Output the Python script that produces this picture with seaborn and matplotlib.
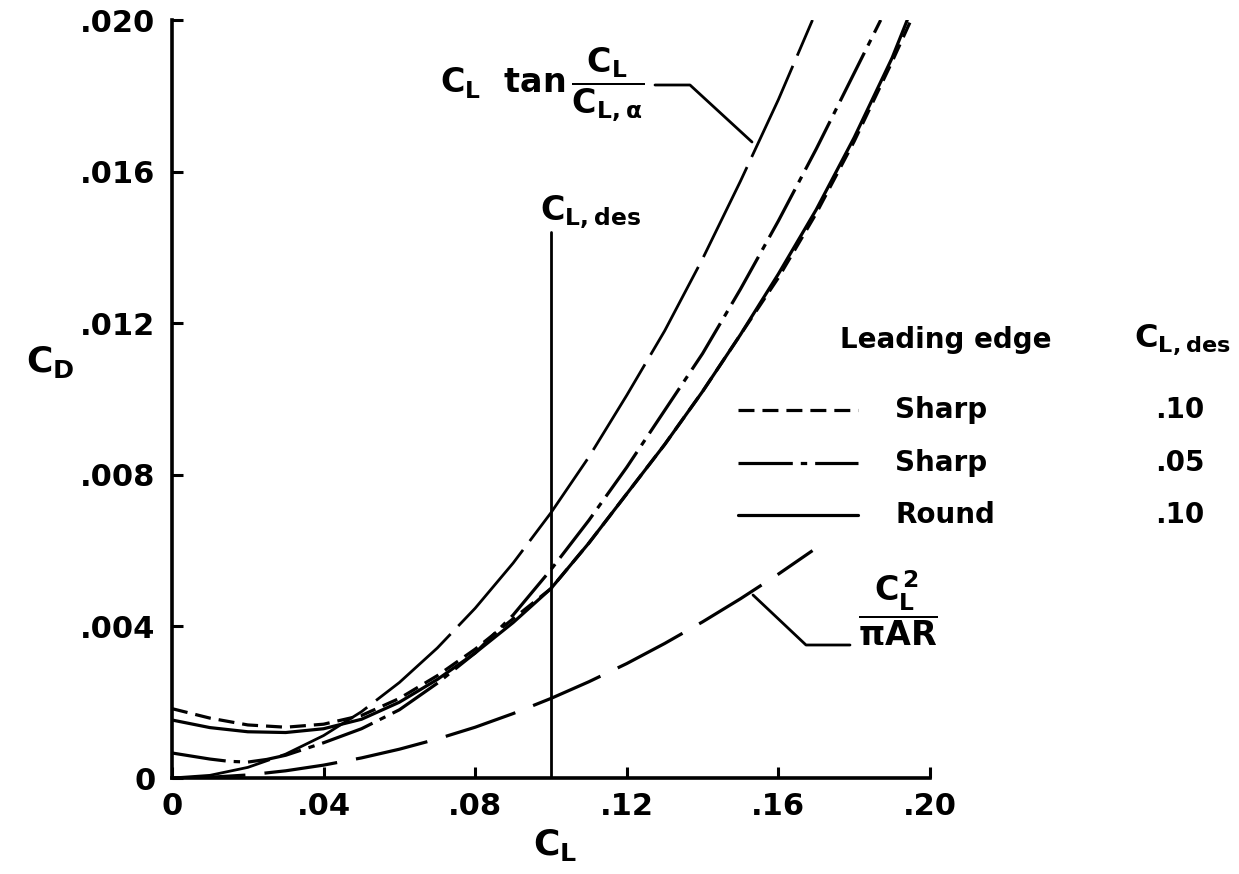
import matplotlib
matplotlib.use("Agg")
import matplotlib.pyplot as plt
from matplotlib.lines import Line2D
import seaborn as sns

# --- curve readings (C_L, C_D) ---
cl_tan = [0, .01, .02, .03, .04, .05, .06, .07, .08, .09, .10, .11, .12, .13, .14, .15, .16, .169]
cd_tan = [0, .00007, .00028, .00063, .00112, .00175, .00252, .00343, .00448, .00567, .0070,
          .00847, .0101, .0118, .0137, .01575, .0179, .0200]

cl_par = [0, .01, .02, .03, .04, .05, .06, .07, .08, .09, .10, .11, .12, .13, .14, .15, .16, .169]
cd_par = [0, .00002, .00008, .00019, .00034, .00053, .00076, .00103, .00134, .0017, .0021,
          .00254, .00302, .00355, .00412, .00473, .00538, .0060]

cl_round = [0, .01, .02, .03, .04, .05, .06, .07, .08, .09, .10, .11, .12, .13, .14, .15, .16,
            .17, .18, .19, .194]
cd_round = [.00153, .00133, .00122, .0012, .0013, .00155, .0020, .0026, .0033, .0041, .0050,
            .0062, .0075, .0088, .0102, .0117, .0133, .0150, .0169, .0190, .0200]

cl_sharp10 = [0, .01, .02, .03, .04, .05, .06, .07, .08, .09, .10, .11, .12, .13, .14, .15, .16,
              .17, .18, .19, .195]
cd_sharp10 = [.00183, .00158, .0014, .00134, .00142, .00165, .0021, .0027, .0034, .0042, .0050,
              .0062, .0075, .0088, .0102, .0117, .0132, .0149, .0168, .0189, .0200]

cl_sharp05 = [0, .01, .015, .02, .025, .03, .04, .05, .06, .07, .08, .09, .10, .11, .12, .13,
              .14, .15, .16, .17, .18, .187]
cd_sharp05 = [.00066, .0005, .00044, .00042, .00049, .0006, .00093, .0013, .0018, .0025, .0033,
              .0043, .0055, .0068, .0082, .0097, .0112, .0129, .0147, .0166, .0186, .0200]

cl_des = 0.10
cl_des_top = 0.0144

x_ticks = [0, .04, .08, .12, .16, .20]
x_labels = ["0", ".04", ".08", ".12", ".16", ".20"]
y_ticks = [0, .004, .008, .012, .016, .020]
y_labels = ["0", ".004", ".008", ".012", ".016", ".020"]

legend_edges = ["Sharp", "Sharp", "Round"]
legend_des = [".10", ".05", ".10"]

DASHED = (0, (5, 2.5))
DASHDOT = (0, (17, 2.5, 2, 2.5))
LONGDASH = (0, (36, 4))
PARDASH = (0, (23, 6))

sns.set_style("ticks")
plt.rcParams["font.family"] = ["DejaVu Sans"]
plt.rcParams["font.weight"] = "bold"
plt.rcParams["text.color"] = "black"
plt.rcParams["mathtext.fontset"] = "custom"
plt.rcParams["mathtext.rm"] = "DejaVu Sans:bold"
plt.rcParams["mathtext.it"] = "DejaVu Sans:bold"
plt.rcParams["mathtext.bf"] = "DejaVu Sans:bold"
plt.rcParams["mathtext.sf"] = "DejaVu Sans:bold"

W, H = 1239, 874
fig = plt.figure(figsize=(W / 100, H / 100), dpi=100)
ax = fig.add_axes([172 / W, 1 - 778 / H, (930 - 172) / W, (778 - 20) / H])


def fp(px, py):
    return px / W, 1 - py / H


lw = 2.3
sns.lineplot(x=cl_tan, y=cd_tan, ax=ax, color="black", lw=2.0, linestyle=LONGDASH,
             estimator=None, sort=False)
sns.lineplot(x=cl_par, y=cd_par, ax=ax, color="black", lw=lw, linestyle=PARDASH,
             estimator=None, sort=False)
sns.lineplot(x=cl_round, y=cd_round, ax=ax, color="black", lw=lw, estimator=None, sort=False)
sns.lineplot(x=cl_sharp10, y=cd_sharp10, ax=ax, color="black", lw=lw, linestyle=DASHED,
             estimator=None, sort=False)
sns.lineplot(x=cl_sharp05, y=cd_sharp05, ax=ax, color="black", lw=lw, linestyle=DASHDOT,
             estimator=None, sort=False)
ax.plot([cl_des, cl_des], [0, cl_des_top], color="black", lw=2.0)

ax.set_xlim(0, 0.20)
ax.set_ylim(0, 0.020)
ax.set_xticks(x_ticks)
ax.set_xticklabels(x_labels, fontweight="bold")
ax.set_yticks(y_ticks)
ax.set_yticklabels(y_labels, fontweight="bold")
ax.tick_params(direction="in", length=8, width=2.2, labelsize=22, colors="black")
ax.tick_params(axis="y", pad=12)
ax.tick_params(axis="x", pad=10)
for side in ["top", "right"]:
    ax.spines[side].set_visible(False)
for side in ["left", "bottom"]:
    ax.spines[side].set_linewidth(2.6)
    ax.spines[side].set_color("black")
ax.set_xlabel("")
ax.set_ylabel("")

# axis titles
fig.text(*fp(555, 845), r"$\mathrm{C_L}$", fontsize=26, ha="center", va="center")
fig.text(*fp(50, 362), r"$\mathrm{C_D}$", fontsize=26, ha="center", va="center")

# design C_L marker label
fig.text(*fp(590, 212), r"$\mathrm{C_{L,des}}$", fontsize=24, ha="center", va="center")

# C_L tan label and leader
fig.text(*fp(440, 85), r"$\mathrm{C_L\ \ tan\,\dfrac{C_L}{C_{L,\alpha}}}$",
         fontsize=24, ha="left", va="center")
fig.add_artist(Line2D([fp(655, 85)[0], fp(690, 85)[0], fp(752, 142)[0]],
                      [fp(655, 85)[1], fp(690, 85)[1], fp(752, 142)[1]],
                      transform=fig.transFigure, color="black", lw=2.0))

# C_L^2 / pi AR label and leader
fig.text(*fp(898, 608), r"$\mathrm{\dfrac{C_L^{\,2}}{\pi AR}}$",
         fontsize=24, ha="center", va="center")
fig.add_artist(Line2D([fp(753, 595)[0], fp(806, 645)[0], fp(850, 645)[0]],
                      [fp(753, 595)[1], fp(806, 645)[1], fp(850, 645)[1]],
                      transform=fig.transFigure, color="black", lw=2.0))

# legend table
fig.text(*fp(840, 340), "Leading edge", fontsize=20, ha="left", va="center")
fig.text(*fp(1182, 340), r"$\mathrm{C_{L,des}}$", fontsize=23, ha="center", va="center")
row_y = [410, 463, 515]
styles = [DASHED, DASHDOT, "-"]
for yy, st, edge, des in zip(row_y, styles, legend_edges, legend_des):
    fig.add_artist(Line2D([fp(738, yy)[0], fp(858, yy)[0]], [fp(738, yy)[1], fp(858, yy)[1]],
                          transform=fig.transFigure, color="black", lw=lw, linestyle=st))
    fig.text(*fp(895, yy), edge, fontsize=20, ha="left", va="center")
    fig.text(*fp(1180, yy), des, fontsize=20, ha="center", va="center")

fig.savefig("out.png", dpi=100)
